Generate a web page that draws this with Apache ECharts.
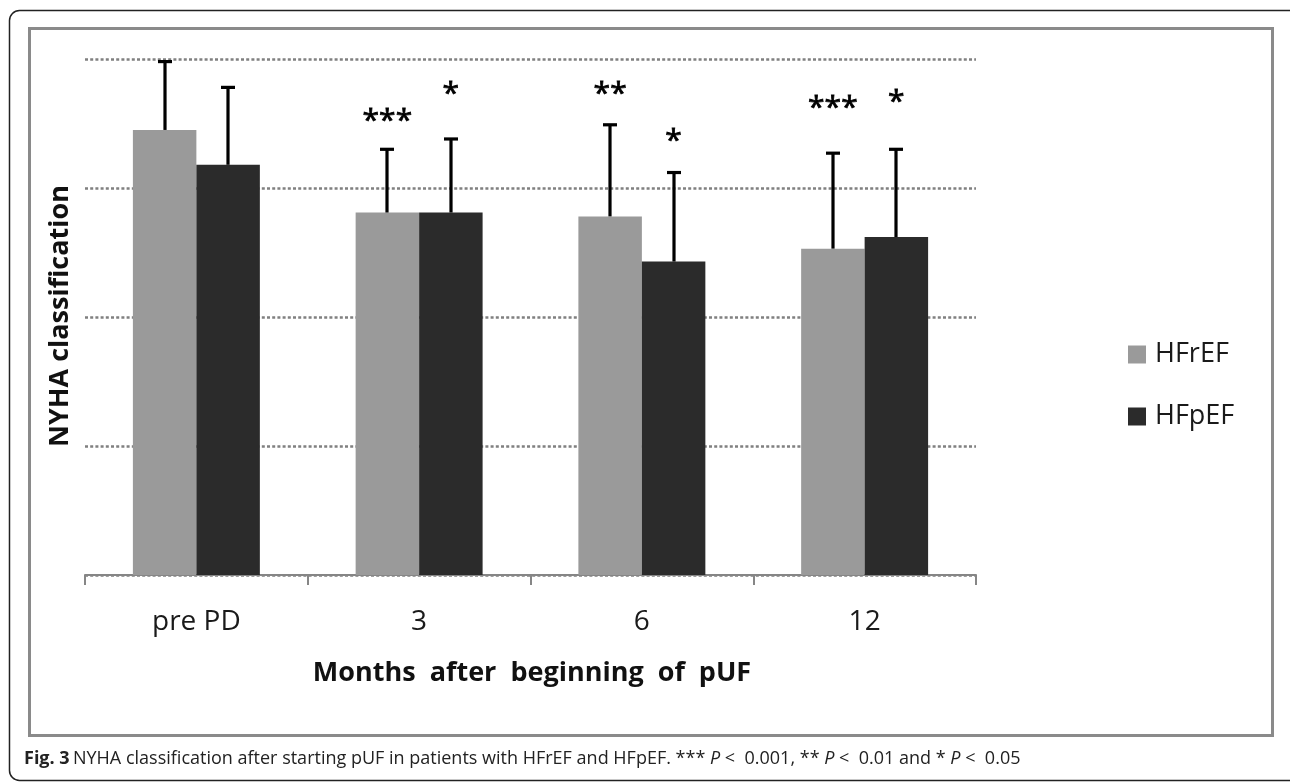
<!DOCTYPE html>
<html>
<head>
<meta charset="utf-8">
<script src="https://cdn.jsdelivr.net/npm/echarts@6/dist/echarts.min.js"></script>
<style>
html,body{margin:0;padding:0;background:#fff;}
#chart{width:1290px;height:782px;}
</style>
</head>
<body>
<div id="chart"></div>
<script>
// ---- data ----
const categories = ['pre PD', '3', '6', '12'];
const seriesNames = ['HFrEF', 'HFpEF'];
const hfrefMean = [3.45, 2.81, 2.78, 2.53];
const hfpefMean = [3.18, 2.81, 2.43, 2.62];
const hfrefSD = [0.53, 0.49, 0.71, 0.74];
const hfpefSD = [0.60, 0.57, 0.69, 0.68];
const hfrefSig = ['', '***', '**', '***'];
const hfpefSig = ['', '*', '*', '*'];
// vertical position (in NYHA units) of the significance marks
const hfrefSigY = [null, 3.56, 3.77, 3.66];
const hfpefSigY = [null, 3.77, 3.41, 3.71];
const yTicks = [0, 1, 2, 3, 4];

const colors = ['#9a9a9a', '#2b2b2b'];
const BAR_FRAC = 0.285;

const errData = [];
hfrefMean.forEach((m, i) => errData.push([i, m, hfrefSD[i], 0]));
hfpefMean.forEach((m, i) => errData.push([i, m, hfpefSD[i], 1]));

const sigData = [];
hfrefSig.forEach((s, i) => { if (s) sigData.push([i, hfrefSigY[i], 0, s]); });
hfpefSig.forEach((s, i) => { if (s) sigData.push([i, hfpefSigY[i], 1, s]); });

const chart = echarts.init(document.getElementById('chart'), null, {renderer: 'canvas'});
const FONT = 'Open Sans';

const option = {
  backgroundColor: '#fff',
  animation: false,
  grid: {left: 85, right: 314, top: 59, bottom: 207, containLabel: false},
  legend: {
    data: seriesNames,
    orient: 'vertical',
    left: 1123,
    top: 336,
    itemWidth: 18,
    itemHeight: 18,
    itemGap: 35,
    icon: 'rect',
    textStyle: {fontFamily: FONT, fontSize: 27, color: '#1a1a1a', padding: [0, 0, 0, 4]}
  },
  xAxis: {
    type: 'category',
    data: categories,
    axisLine: {lineStyle: {color: '#868686', width: 2}},
    axisTick: {show: true, length: 10, lineStyle: {color: '#868686', width: 2}},
    axisLabel: {fontFamily: FONT, fontSize: 28, color: '#1a1a1a', margin: 33}
  },
  yAxis: {
    type: 'value',
    min: yTicks[0],
    max: yTicks[yTicks.length - 1],
    interval: 1,
    axisLine: {show: false},
    axisTick: {show: false},
    axisLabel: {show: false},
    splitLine: {lineStyle: {color: '#808080', width: 2.5, type: [3, 2.2]}}
  },
  series: [
    {
      name: seriesNames[0], type: 'bar', data: hfrefMean,
      barWidth: (BAR_FRAC * 100) + '%', barGap: '0%',
      itemStyle: {color: colors[0]}, z: 2
    },
    {
      name: seriesNames[1], type: 'bar', data: hfpefMean,
      barWidth: (BAR_FRAC * 100) + '%', barGap: '0%',
      itemStyle: {color: colors[1]}, z: 2
    },
    {
      type: 'custom', data: errData, z: 5, silent: true,
      renderItem: function (params, api) {
        const c = api.value(0), m = api.value(1), s = api.value(2), k = api.value(3);
        const band = api.size([1, 0])[0];
        const bw = band * BAR_FRAC;
        const base = api.coord([c, m]);
        const top = api.coord([c, m + s]);
        const x = Math.round(base[0] + (k === 0 ? -bw / 2 : bw / 2));
        const st = {stroke: '#000', lineWidth: 3.2};
        return {
          type: 'group',
          children: [
            {type: 'line', shape: {x1: x, y1: base[1], x2: x, y2: top[1]}, style: st},
            {type: 'line', shape: {x1: x - 7, y1: top[1], x2: x + 7, y2: top[1]}, style: st}
          ]
        };
      }
    },
    {
      type: 'custom', data: sigData, z: 6, silent: true,
      dimensions: ['x', 'y', 'k', 'label'],
      renderItem: function (params, api) {
        const c = api.value(0), y = api.value(1), k = api.value(2);
        const lbl = sigData[params.dataIndex][3];
        const band = api.size([1, 0])[0];
        const bw = band * BAR_FRAC;
        const p = api.coord([c, y]);
        const x = p[0] + (k === 0 ? -bw / 2 : bw / 2);
        return {
          type: 'text',
          style: {
            x: x, y: p[1] + 6, text: lbl,
            fontFamily: FONT, fontSize: 30, fill: '#000',
            stroke: '#000', lineWidth: 0.8,
            textAlign: 'center', textVerticalAlign: 'middle'
          }
        };
      }
    }
  ],
  graphic: [
    {type: 'rect', shape: {x: 9.5, y: 10.5, width: 1290, height: 770, r: 10},
     style: {fill: 'none', stroke: '#222', lineWidth: 1.5}, z: -1, silent: true},
    {type: 'rect', shape: {x: 29.5, y: 28.5, width: 1243, height: 707},
     style: {fill: 'none', stroke: '#8a8a8a', lineWidth: 3}, z: -1, silent: true},
    {type: 'text', x: 60, y: 316, rotation: Math.PI / 2,
     style: {text: 'NYHA classification', fontFamily: FONT, fontSize: 27, fontWeight: 'bold',
             fill: '#111', textAlign: 'center', textVerticalAlign: 'middle'}},
    {type: 'text', x: 532, y: 673,
     style: {text: 'Months  after  beginning  of  pUF', fontFamily: FONT, fontSize: 27, fontWeight: 'bold',
             fill: '#111', textAlign: 'center', textVerticalAlign: 'middle'}},
    {type: 'text', x: 24, y: 759,
     style: {
       text: '{b|Fig. 3} {n|NYHA classification after starting pUF in patients with HFrEF and HFpEF. *** }{i|P}{n| <  0.001, ** }{i|P}{n| <  0.01 and * }{i|P}{n| <  0.05}',
       textVerticalAlign: 'middle',
       rich: {
         b: {fontFamily: FONT, fontSize: 18, fontWeight: 'bold', fill: '#222'},
         n: {fontFamily: FONT, fontSize: 18, fill: '#222'},
         i: {fontFamily: FONT, fontSize: 18, fontStyle: 'italic', fill: '#222'}
       }
     }}
  ]
};
chart.setOption(option);
</script>
</body>
</html>
